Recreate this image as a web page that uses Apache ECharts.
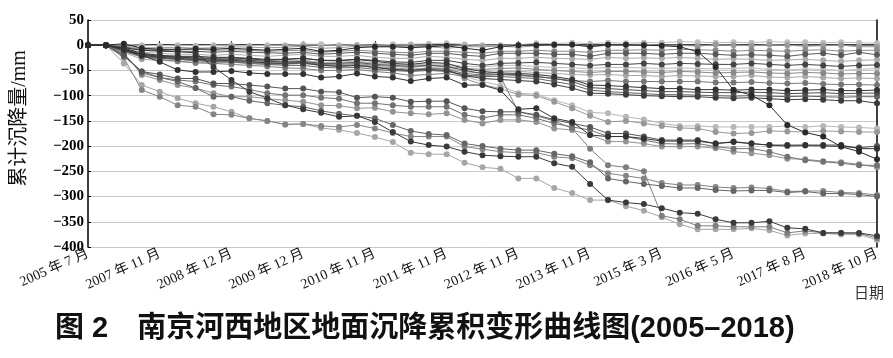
<!DOCTYPE html>
<html>
<head>
<meta charset="utf-8">
<script src="https://cdn.jsdelivr.net/npm/echarts@6/dist/echarts.min.js"></script>
<style>html,body{margin:0;padding:0;background:#fff;}#c{width:893px;height:358px;}</style>
</head>
<body>
<div id="c"></div>
<script>
// Tick labels shown on the x axis (every 4th survey period)
var tickLabels = ['2005 年 7 月','2007 年 11 月','2008 年 12 月','2009 年 12 月','2010 年 11 月','2011 年 11 月','2012 年 11 月','2013 年 11 月','2015 年 3 月','2016 年 5 月','2017 年 8 月','2018 年 10 月'];
var yTicks = [50, 0, -50, -100, -150, -200, -250, -300, -350, -400];

// Series values (mm), 45 survey periods each
var B1  = [0,0,2,0,-1,0,-1,0,0,-1,0,0,2,2,0,1,0,2,2,3,4,2,0,0,1,4,3,5,3,5,4,5,5,7,6,5,6,5,7,6,6,5,6,5,4];
var B2  = [0,0,-2,-5,-5,-4,-6,-5,-3,-4,-5,-4,-2,-6,-5,-2,-3,-3,-2,-3,-6,-3,-3,-2,-4,-1,0,2,-3,0,1,2,0,0,-2,1,0,-1,1,0,-2,-1,0,-3,-3];
var B10 = [0,0,-3,-8,-8,-9,-8,-10,-9,-10,-12,-11,-10,-14,-12,-10,-12,-14,-15,-12,-12,-14,-16,-12,-12,-10,-12,-12,-14,-10,-10,-9,-10,-8,-9,-10,-12,-10,-11,-12,-10,-9,-12,-10,-10];
var B3  = [0,0,-4,-10,-10,-12,-12,-14,-12,-14,-15,-16,-14,-18,-16,-14,-16,-18,-20,-16,-16,-20,-22,-16,-16,-16,-18,-18,-22,-16,-16,-16,-18,-16,-16,-18,-20,-19,-20,-22,-18,-16,-20,-14,-19];
var B4  = [0,0,-6,-14,-16,-18,-18,-20,-18,-20,-22,-20,-18,-22,-22,-20,-24,-26,-26,-22,-24,-28,-30,-26,-26,-24,-26,-27,-28,-24,-26,-25,-26,-24,-26,-28,-27,-28,-30,-29,-28,-30,-32,-30,-29];
var B5  = [0,0,-8,-18,-22,-24,-25,-26,-25,-27,-30,-28,-26,-30,-31,-28,-30,-33,-34,-30,-30,-36,-40,-36,-35,-34,-36,-38,-40,-38,-38,-36,-38,-36,-37,-38,-38,-36,-38,-40,-38,-40,-42,-40,-39];
var B6  = [0,0,-10,-20,-22,-24,-26,-28,-27,-30,-33,-32,-30,-35,-34,-32,-35,-38,-40,-36,-38,-42,-43,-40,-40,-42,-44,-45,-46,-44,-44,-45,-46,-45,-46,-47,-46,-45,-48,-49,-47,-48,-50,-48,-46];
var B7  = [0,0,-12,-24,-26,-28,-30,-32,-30,-33,-36,-35,-33,-38,-38,-36,-40,-42,-44,-40,-42,-46,-48,-46,-45,-48,-50,-52,-54,-52,-52,-53,-54,-52,-53,-55,-54,-53,-55,-56,-54,-55,-57,-56,-56];
var B8  = [0,0,-14,-28,-30,-32,-34,-35,-34,-36,-38,-38,-36,-40,-42,-40,-44,-46,-48,-45,-46,-52,-56,-52,-52,-54,-56,-58,-59,-58,-60,-60,-62,-60,-61,-62,-62,-60,-63,-64,-62,-64,-66,-65,-66];
var B9  = [0,0,-10,-20,-24,-28,-30,-32,-32,-34,-36,-36,-34,-38,-40,-40,-44,-48,-50,-46,-48,-56,-59,-58,-58,-62,-66,-70,-72,-70,-72,-72,-72,-72,-72,-74,-74,-73,-75,-76,-75,-77,-78,-78,-79];
var R1  = [0,0,-6,-16,-20,-22,-22,-24,-24,-26,-28,-28,-26,-30,-30,-28,-32,-36,-38,-34,-36,-46,-52,-55,-56,-58,-62,-68,-79,-80,-82,-84,-86,-86,-88,-88,-89,-88,-88,-90,-89,-88,-90,-90,-89];
var R2  = [0,0,-8,-18,-22,-24,-26,-28,-28,-30,-32,-33,-32,-36,-36,-34,-38,-40,-42,-40,-42,-50,-56,-58,-60,-62,-66,-72,-84,-86,-88,-90,-92,-92,-93,-94,-94,-93,-94,-96,-95,-94,-96,-95,-95];
var R3  = [0,0,-12,-22,-26,-28,-30,-33,-33,-36,-38,-40,-40,-44,-45,-44,-48,-50,-52,-50,-52,-59,-62,-62,-64,-66,-72,-78,-89,-92,-94,-96,-98,-98,-99,-100,-101,-100,-101,-102,-101,-102,-103,-102,-102];
var R4  = [0,0,-10,-20,-24,-26,-28,-30,-30,-32,-35,-36,-35,-40,-42,-40,-44,-48,-50,-48,-50,-60,-66,-68,-70,-72,-78,-85,-95,-96,-98,-100,-101,-102,-102,-104,-105,-104,-106,-108,-107,-108,-110,-110,-115];
var LG1 = [0,0,-10,-18,-20,-22,-24,-25,-26,-28,-30,-30,-30,-34,-34,-32,-36,-38,-40,-38,-40,-62,-72,-80,-95,-97,-109,-119,-133,-135,-142,-147,-155,-160,-160,-162,-162,-162,-162,-160,-162,-160,-162,-163,-165];
var LG2 = [0,0,-12,-22,-25,-27,-28,-30,-31,-33,-35,-36,-36,-40,-40,-38,-42,-45,-48,-45,-46,-66,-78,-86,-98,-100,-112,-125,-140,-152,-150,-155,-160,-164,-165,-172,-175,-174,-170,-171,-172,-170,-171,-172,-172];
var D2  = [0,0,-8,-20,-33,-49,-53,-53,-51,-55,-57,-57,-57,-64,-62,-56,-62,-64,-71,-66,-64,-79,-79,-89,-127,-125,-145,-152,-178,-181,-181,-185,-190,-190,-190,-195,-192,-195,-198,-198,-198,-198,-198,-205,-205];
var D3  = [0,0,3,-6,-8,-8,-7,-8,-6,-8,-10,-8,-6,-12,-10,-5,-3,-3,-5,-3,-1,-6,-10,-3,0,0,1,1,-3,1,1,0,-1,-3,-13,-43,-89,-99,-119,-158,-173,-181,-201,-211,-226];
var M1  = [0,0,-20,-52,-58,-66,-66,-76,-76,-79,-82,-86,-86,-92,-93,-104,-102,-104,-112,-111,-111,-125,-131,-132,-132,-138,-148,-155,-162,-175,-175,-181,-188,-188,-188,-195,-191,-195,-198,-200,-199,-200,-201,-203,-200];
var M2  = [0,0,-18,-55,-64,-69,-72,-79,-82,-88,-95,-99,-99,-104,-106,-115,-115,-119,-122,-122,-122,-138,-144,-138,-138,-145,-155,-162,-168,-181,-181,-188,-195,-196,-195,-201,-205,-205,-211,-221,-228,-231,-234,-238,-238];
var M3  = [0,0,-15,-59,-69,-79,-85,-95,-102,-102,-106,-109,-112,-119,-120,-125,-124,-132,-135,-137,-135,-148,-155,-148,-148,-152,-165,-168,-178,-191,-191,-195,-201,-201,-201,-204,-211,-214,-218,-225,-226,-230,-232,-236,-242];
var U2  = [0,0,-22,-52,-64,-72,-85,-102,-102,-110,-115,-119,-122,-130,-136,-140,-145,-158,-170,-176,-178,-195,-200,-205,-208,-208,-215,-220,-232,-264,-270,-275,-279,-283,-283,-287,-289,-288,-288,-292,-290,-294,-294,-296,-300];
var S3  = [0,0,-10,-22,-28,-32,-35,-36,-38,-40,-42,-45,-46,-50,-50,-48,-52,-55,-60,-58,-56,-62,-60,-62,-132,-140,-150,-165,-205,-238,-242,-250,-338,-345,-358,-358,-360,-360,-360,-372,-368,-372,-372,-373,-382];
var U1  = [0,0,-25,-89,-102,-119,-122,-137,-138,-145,-150,-157,-156,-160,-162,-158,-165,-174,-181,-181,-181,-201,-206,-211,-213,-213,-221,-224,-238,-254,-259,-264,-273,-277,-277,-281,-283,-282,-284,-290,-289,-289,-292,-293,-297];
var S1  = [0,0,-36,-79,-92,-105,-115,-122,-132,-145,-150,-157,-156,-164,-168,-174,-182,-192,-213,-216,-216,-233,-242,-245,-264,-264,-283,-293,-307,-307,-319,-328,-341,-355,-365,-365,-365,-363,-367,-377,-373,-373,-375,-375,-386];
var S2  = [0,0,-5,-10,-12,-13,-15,-43,-69,-92,-105,-119,-127,-134,-142,-140,-152,-172,-191,-198,-201,-211,-218,-220,-221,-221,-234,-241,-275,-307,-312,-315,-323,-332,-334,-345,-352,-352,-349,-362,-364,-372,-372,-372,-378];

// 45 survey periods; every 4th one carries a tick label
var categories = [];
for (var k = 0; k < 45; k++) {
  categories.push(k % 4 === 0 ? tickLabels[k / 4] : '第' + (k + 1) + '期');
}

// light series first so that dark ones are drawn on top
var seriesDefs = [
  ['B1', B1, '#bdbdbd'], ['B6', B6, '#bcbcbc'], ['LG1', LG1, '#b8b8b8'],
  ['B4', B4, '#ababab'], ['B8', B8, '#a8a8a8'], ['S1', S1, '#a6a6a6'],
  ['B2', B2, '#9a9a9a'], ['LG2', LG2, '#989898'], ['M3', M3, '#939393'],
  ['B10', B10, '#8a8a8a'], ['B7', B7, '#888888'], ['U1', U1, '#858585'],
  ['S3', S3, '#7e7e7e'], ['B9', B9, '#777777'], ['M2', M2, '#737373'],
  ['U2', U2, '#666666'], ['R3', R3, '#646464'], ['B3', B3, '#5a5a5a'],
  ['M1', M1, '#555555'], ['R2', R2, '#4e4e4e'], ['B5', B5, '#454545'],
  ['R4', R4, '#3c3c3c'], ['S2', S2, '#3a3a3a'], ['R1', R1, '#343434'],
  ['D2', D2, '#323232'], ['D3', D3, '#2a2a2a']
];

var series = seriesDefs.map(function (d) {
  return {
    name: d[0], type: 'line', data: d[1],
    symbol: 'circle', symbolSize: 6, showSymbol: true,
    lineStyle: { width: 1, color: d[2] },
    itemStyle: { color: d[2] },
    emphasis: { disabled: true },
    animation: false
  };
});

var chart = echarts.init(document.getElementById('c'), null, { renderer: 'canvas' });
chart.setOption({
  animation: false,
  backgroundColor: '#fff',
  title: [
    {
      text: '图 2　南京河西地区地面沉降累积变形曲线图(2005–2018)',
      left: 50, top: 309,
      textStyle: { fontFamily: 'Liberation Sans, Noto Sans CJK SC', fontSize: 29, fontWeight: 'bold', color: '#111' }
    },
    {
      text: '日期', left: 849, top: 280,
      textStyle: { fontFamily: 'Noto Sans CJK SC', fontSize: 15, fontWeight: 'normal', color: '#333' }
    }
  ],
  grid: { left: 88, right: 16, top: 20, bottom: 111 },
  xAxis: [
    {
      type: 'category', data: categories, boundaryGap: false,
      axisLine: { lineStyle: { color: '#000', width: 1.5 } },
      axisTick: { interval: 3, inside: true, length: 4, lineStyle: { color: '#000' } },
      axisLabel: {
        interval: 3, rotate: 24, margin: 6, color: '#111',
        fontFamily: 'Liberation Serif, Noto Sans CJK SC', fontSize: 14
      },
      splitLine: { show: false }
    },
    {
      type: 'category', data: categories, boundaryGap: false, position: 'top',
      axisLine: { lineStyle: { color: '#777', width: 1 } },
      axisTick: { show: false }, axisLabel: { show: false }, splitLine: { show: false }
    }
  ],
  yAxis: [
    {
      type: 'value', min: -400, max: 50, interval: 50,
      name: '累计沉降量/mm', nameLocation: 'middle', nameGap: 58, nameRotate: 90,
      nameTextStyle: { fontFamily: 'Liberation Serif, Noto Sans CJK SC', fontSize: 20, color: '#111', padding: [0, 0, 0, 30] },
      axisLine: { show: true, lineStyle: { color: '#000', width: 1.5 } },
      axisTick: { show: true, inside: true, length: 3, lineStyle: { color: '#000' } },
      axisLabel: {
        margin: 4, color: '#000', fontFamily: 'Liberation Serif', fontSize: 15, fontWeight: 'bold',
        formatter: function (v) { return String(v).replace('-', '−'); }
      },
      splitLine: { show: true, lineStyle: { color: '#c8c8c8', width: 1 } }
    },
    {
      type: 'value', min: -400, max: 50, interval: 50, position: 'right',
      axisLine: { show: true, lineStyle: { color: '#000', width: 1.5 } },
      axisTick: { show: false }, axisLabel: { show: false }, splitLine: { show: false }
    }
  ],
  series: series
});
</script>
</body>
</html>
